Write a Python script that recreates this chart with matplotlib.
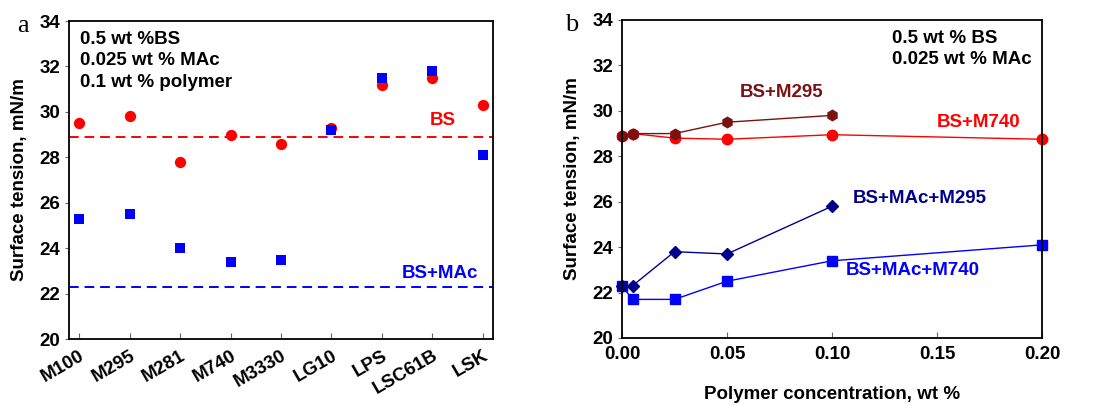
import matplotlib

matplotlib.use("Agg")
import matplotlib.pyplot as plt

plt.rcParams["font.family"] = ["Liberation Sans", "DejaVu Sans"]
plt.rcParams["font.weight"] = "bold"
plt.rcParams["axes.labelweight"] = "bold"

# panel a
polymers = ["M100", "M295", "M281", "M740", "M3330", "LG10", "LPS", "LSC61B", "LSK"]
bs_polymer = [29.5, 29.8, 27.8, 29.0, 28.6, 29.3, 31.2, 31.5, 30.3]
bs_mac_polymer = [25.3, 25.5, 24.0, 23.4, 23.5, 29.2, 31.5, 31.8, 28.1]
bs_level = 28.9
bs_mac_level = 22.3

# panel b
conc_short = [0.0, 0.005, 0.025, 0.05, 0.1]
conc_long = [0.0, 0.005, 0.025, 0.05, 0.1, 0.2]
bs_m295 = [28.9, 29.0, 29.0, 29.5, 29.8]
bs_m740 = [28.9, 29.0, 28.8, 28.75, 28.95, 28.75]
bs_mac_m295 = [22.3, 22.3, 23.8, 23.7, 25.8]
bs_mac_m740 = [22.3, 21.7, 21.7, 22.5, 23.4, 24.1]

RED = "#ff0000"
BLUE = "#0000ff"
DARKRED = "#7a1212"
NAVY = "#00008b"
FS = 13.5

fig = plt.figure(figsize=(11.04, 4.05), dpi=100)
ax1 = fig.add_axes([69 / 1104, 1 - 339 / 405, 424 / 1104, 318 / 405])
ax2 = fig.add_axes([622 / 1104, 1 - 338 / 405, 420 / 1104, 318 / 405])

x = list(range(len(polymers)))
ax1.axhline(bs_level, color=RED, linestyle=(0, (5, 3)), linewidth=1.4)
ax1.axhline(bs_mac_level, color=BLUE, linestyle=(0, (5, 3)), linewidth=1.4)
ax1.scatter(x, bs_polymer, s=66, color=RED, marker="o", zorder=3, linewidths=0)
ax1.scatter(x, bs_mac_polymer, s=52, color=BLUE, marker="s", zorder=4, linewidths=0)
ax1.set_xlim(-0.2, 8.2)
ax1.set_ylim(20, 34)
ax1.set_xticks(x)
ax1.set_xticklabels(polymers, rotation=30, ha="right", rotation_mode="anchor")
ax1.text(0.026, 0.97, "0.5 wt %BS\n0.025 wt % MAc\n0.1 wt % polymer", transform=ax1.transAxes,
         ha="left", va="top", fontsize=FS, linespacing=1.38)
ax1.text(7.2, 29.6, "BS", color=RED, fontsize=FS, ha="center", va="center")
ax1.text(7.15, 22.9, "BS+MAc", color=BLUE, fontsize=FS, ha="center", va="center")
ax1.text(-0.123, 0.965, "a", transform=ax1.transAxes, family="Liberation Serif",
         fontweight="normal", fontsize=19, ha="left", va="baseline")

ax2.plot(conc_long, bs_m740, color=RED, marker="o", markersize=7.5, linewidth=1, clip_on=False)
ax2.plot(conc_short, bs_m295, color=DARKRED, marker="h", markersize=7.5, linewidth=1, clip_on=False)
ax2.plot(conc_long, bs_mac_m740, color=BLUE, marker="s", markersize=7, linewidth=1, clip_on=False)
ax2.plot(conc_short, bs_mac_m295, color=NAVY, marker="D", markersize=6.5, linewidth=1, clip_on=False)
ax2.set_xlim(0, 0.2)
ax2.set_ylim(20, 34)
ax2.set_xticks([0, 0.05, 0.10, 0.15, 0.20])
ax2.set_xticklabels(["0.00", "0.05", "0.10", "0.15", "0.20"])
ax2.set_xlabel("Polymer concentration, wt %", fontsize=FS, labelpad=16)
ax2.text(0.643, 0.97, "0.5 wt % BS\n0.025 wt % MAc", transform=ax2.transAxes,
         ha="left", va="top", fontsize=FS, linespacing=1.38)
ax2.text(0.076, 30.8, "BS+M295", color=DARKRED, fontsize=FS, ha="center", va="center")
ax2.text(0.170, 29.5, "BS+M740", color=RED, fontsize=FS, ha="center", va="center")
ax2.text(0.142, 26.15, "BS+MAc+M295", color=NAVY, fontsize=FS, ha="center", va="center")
ax2.text(0.1386, 22.95, "BS+MAc+M740", color=BLUE, fontsize=FS, ha="center", va="center")
ax2.text(-0.136, 0.965, "b", transform=ax2.transAxes, family="Liberation Serif",
         fontweight="normal", fontsize=19, ha="left", va="baseline")

for ax in (ax1, ax2):
    ax.set_yticks(range(20, 35, 2))
    ax.set_ylabel("Surface tension, mN/m", fontsize=FS, labelpad=8)
    ax.tick_params(axis="x", direction="in", length=4, color="#666666", labelsize=FS, pad=6)
    ax.tick_params(axis="y", direction="out", length=3, color="#666666", labelsize=FS)
    for spine in ax.spines.values():
        spine.set_linewidth(1.3)

fig.savefig("out.png", dpi=100)
